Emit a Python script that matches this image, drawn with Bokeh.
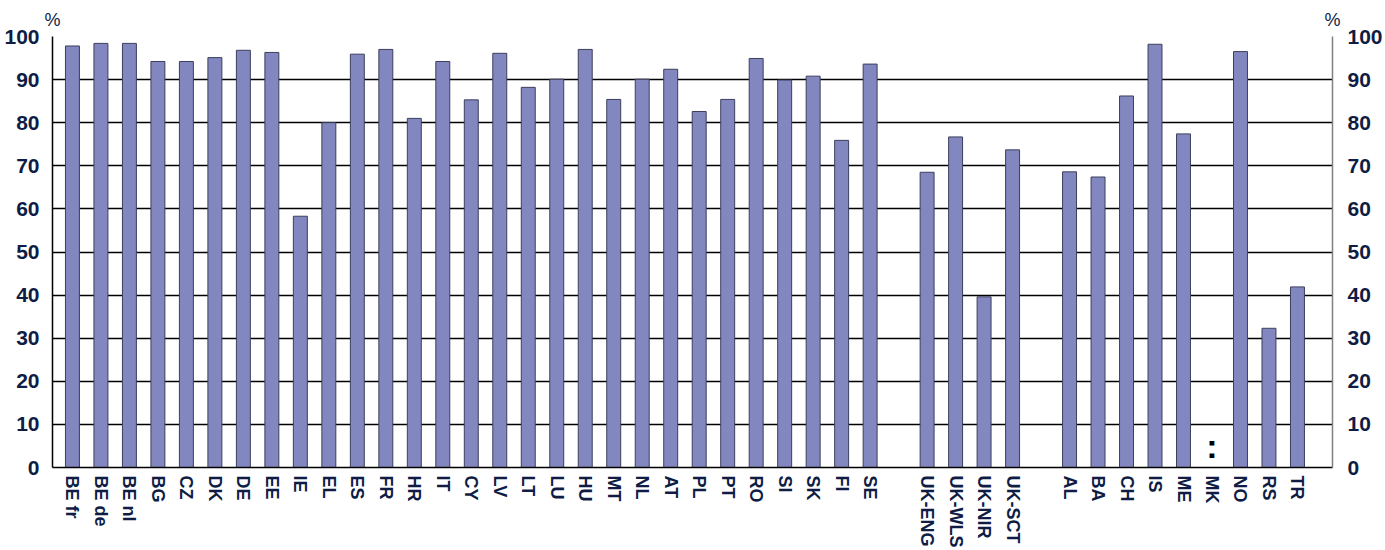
from bokeh.plotting import figure
from bokeh.models import Range1d, LinearAxis, FixedTicker
from bokeh.core.properties import value
from bokeh.embed import file_html
from bokeh.resources import INLINE

# ---- data ----
eu_countries = ["BE fr", "BE de", "BE nl", "BG", "CZ", "DK", "DE", "EE", "IE", "EL",
                "ES", "FR", "HR", "IT", "CY", "LV", "LT", "LU", "HU", "MT", "NL",
                "AT", "PL", "PT", "RO", "SI", "SK", "FI", "SE"]
eu_values = [97.8, 98.4, 98.4, 94.2, 94.2, 95.1, 96.8, 96.3, 58.3, 80.0,
             95.9, 97.0, 81.0, 94.2, 85.3, 96.1, 88.2, 90.1, 97.0, 85.4, 90.1,
             92.4, 82.6, 85.4, 94.9, 89.9, 90.8, 75.9, 93.6]
uk_countries = ["UK-ENG", "UK-WLS", "UK-NIR", "UK-SCT"]
uk_values = [68.5, 76.7, 39.6, 73.7]
other_countries = ["AL", "BA", "CH", "IS", "ME", "MK", "NO", "RS", "TR"]
other_values = [68.6, 67.4, 86.2, 98.2, 77.4, None, 96.5, 32.3, 41.9]
missing_marker = ":"
y_ticks = [0, 10, 20, 30, 40, 50, 60, 70, 80, 90, 100]
unit_label = "%"

# ---- positions (one empty slot between groups) ----
groups = [(eu_countries, eu_values), (uk_countries, uk_values), (other_countries, other_values)]
xs, labels, vals = [], [], []
pos = 0
for cats, vs in groups:
    for c, v in zip(cats, vs):
        xs.append(pos)
        labels.append(c)
        vals.append(v)
        pos += 1
    pos += 1

bar_x = [x for x, v in zip(xs, vals) if v is not None]
bar_top = [v for v in vals if v is not None]
miss_x = [x for x, v in zip(xs, vals) if v is None]

TEXT = "#0f1d45"
FONT = "Liberation Sans"
X0, X1 = -0.70, 44.23

p = figure(width=1385, height=550, output_backend="svg", toolbar_location=None,
           x_range=Range1d(X0, X1), y_range=Range1d(0, 100),
           min_border_top=36, min_border_left=52, min_border_right=51,
           min_border_bottom=82, y_axis_location=None)
p.outline_line_color = None

p.vbar(x=bar_x, top=bar_top, width=0.49, bottom=0,
       fill_color="#8387c0", line_color="#3c3f5c", line_width=1)

p.text(x=miss_x, y=[0] * len(miss_x), text=[missing_marker] * len(miss_x),
       text_align="center", text_baseline="bottom", y_offset=-3,
       text_font=value(FONT), text_font_style="bold", text_font_size="34px",
       text_color="black")


def bare(ax):
    ax.major_tick_out = 0
    ax.major_tick_in = 0
    ax.minor_tick_out = 0
    ax.minor_tick_in = 0
    ax.major_tick_line_color = None
    ax.minor_tick_line_color = None


# x axis
xa = p.xaxis[0]
bare(xa)
xa.ticker = FixedTicker(ticks=xs)
xa.major_label_overrides = {x: l for x, l in zip(xs, labels)}
xa.major_label_orientation = "vertical"
xa.major_label_text_font = FONT
xa.major_label_text_font_style = "bold"
xa.major_label_text_font_size = "18px"
xa.major_label_text_color = TEXT
xa.major_label_standoff = 8
xa.axis_line_color = "black"
xa.axis_line_width = 1.5

# y axes
for side, line_col, standoff in (("left", "black", 13), ("right", "#808080", 15)):
    ax = LinearAxis(ticker=FixedTicker(ticks=y_ticks))
    bare(ax)
    ax.major_label_text_font = FONT
    ax.major_label_text_font_style = "bold"
    ax.major_label_text_font_size = "21px"
    ax.major_label_text_color = TEXT
    ax.major_label_standoff = standoff
    ax.axis_line_color = line_col
    ax.axis_line_width = 1.5
    p.add_layout(ax, side)

# "%" unit labels above both vertical axes
ua = LinearAxis(ticker=FixedTicker(ticks=[X0, X1]),
                major_label_overrides={X0: unit_label, X1: unit_label})
bare(ua)
ua.axis_line_color = None
ua.major_label_standoff = 7
ua.major_label_text_font = FONT
ua.major_label_text_font_size = "18px"
ua.major_label_text_color = TEXT
p.add_layout(ua, "above")

p.xgrid.grid_line_color = None
p.ygrid.ticker = FixedTicker(ticks=y_ticks)
p.ygrid.grid_line_color = "black"
p.ygrid.grid_line_width = 1.5

open("out.html", "w").write(file_html(p, INLINE))
